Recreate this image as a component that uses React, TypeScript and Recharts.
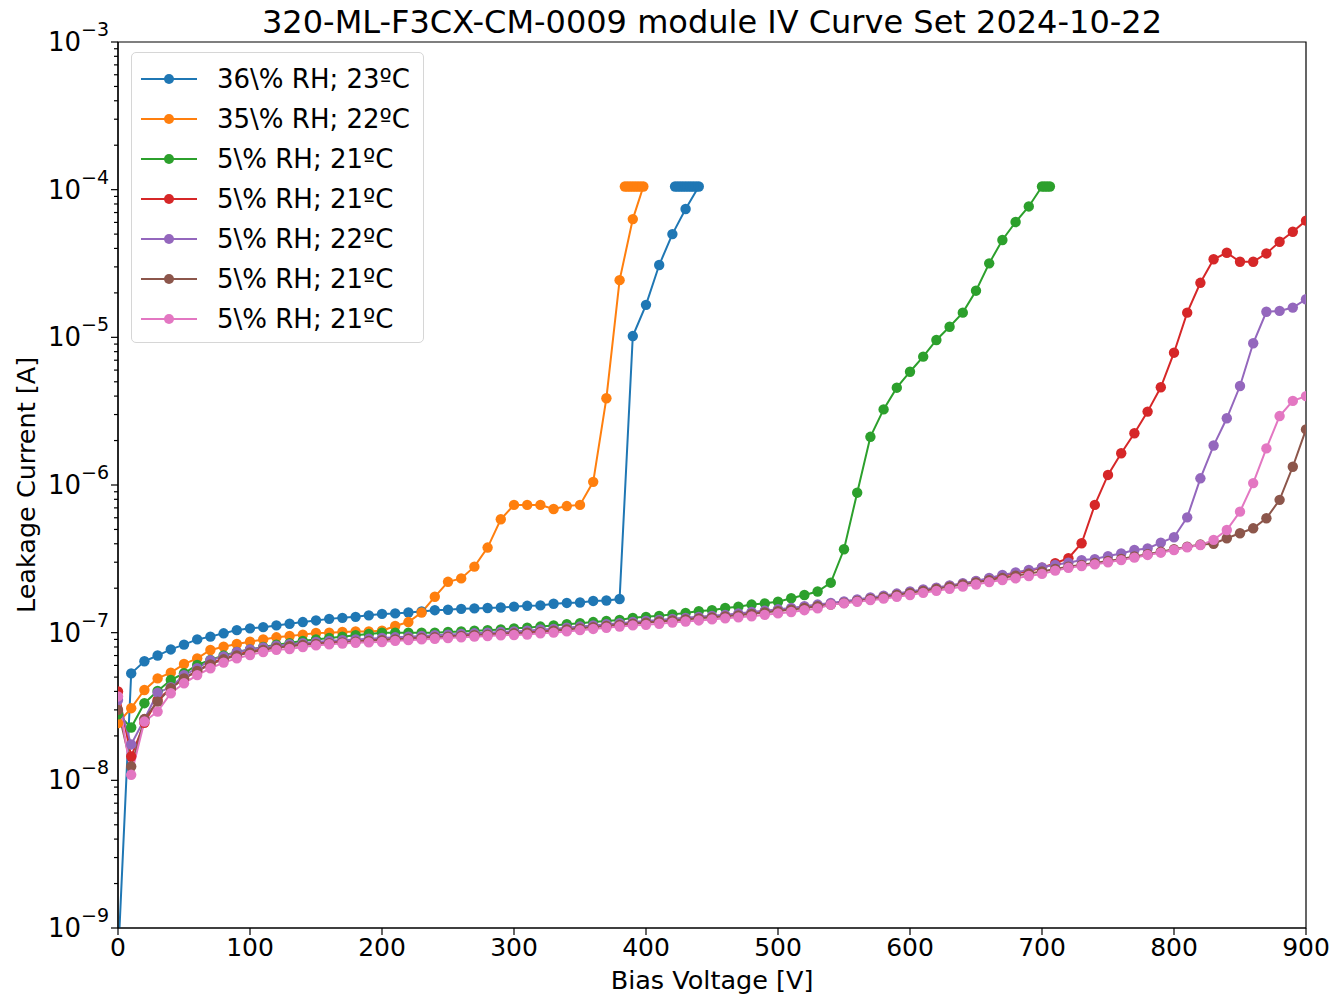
import React from "react";
import { LineChart, Line, XAxis, YAxis, ReferenceArea } from "recharts";

// ---------- data ----------
const voltages = [
  0, 10, 20, 30, 40, 50, 60, 70, 80, 90, 100, 110, 120, 130, 140, 150, 160, 170, 180, 190,
  200, 210, 220, 230, 240, 250, 260, 270, 280, 290, 300, 310, 320, 330, 340, 350, 360, 370, 380, 390,
  400, 410, 420, 430, 440, 450, 460, 470, 480, 490, 500, 510, 520, 530, 540, 550, 560, 570, 580, 590,
  600, 610, 620, 630, 640, 650, 660, 670, 680, 690, 700, 710, 720, 730, 740, 750, 760, 770, 780, 790,
  800, 810, 820, 830, 840, 850, 860, 870, 880, 890, 900,
];

// 36% RH; 23ºC  (0 .. 440 V)
const blueI = [
  6e-10, 5.3e-8, 6.4e-8, 7.0e-8, 7.7e-8, 8.3e-8, 9.0e-8, 9.4e-8, 9.9e-8, 1.04e-7,
  1.07e-7, 1.09e-7, 1.12e-7, 1.15e-7, 1.18e-7, 1.21e-7, 1.24e-7, 1.26e-7, 1.28e-7, 1.31e-7,
  1.34e-7, 1.35e-7, 1.37e-7, 1.39e-7, 1.42e-7, 1.43e-7, 1.45e-7, 1.46e-7, 1.47e-7, 1.48e-7,
  1.5e-7, 1.52e-7, 1.53e-7, 1.57e-7, 1.59e-7, 1.6e-7, 1.64e-7, 1.65e-7, 1.69e-7, 1.02e-5,
  1.66e-5, 3.09e-5, 5.0e-5, 7.4e-5, 1.05e-4,
];
const blueComplianceV = [438, 436, 434, 432, 430, 428, 426, 424, 422];
const blueComplianceI = [1.05e-4, 1.05e-4, 1.05e-4, 1.05e-4, 1.05e-4, 1.05e-4, 1.05e-4, 1.05e-4, 1.05e-4];

// 35% RH; 22ºC  (0 .. 390 V)
const orangeI = [
  2.44e-8, 3.08e-8, 4.09e-8, 4.9e-8, 5.36e-8, 6.13e-8, 6.7e-8, 7.63e-8, 8.04e-8, 8.38e-8,
  8.69e-8, 9.0e-8, 9.3e-8, 9.5e-8, 9.7e-8, 9.95e-8, 1.0e-7, 1.01e-7, 1.02e-7, 1.02e-7,
  1.03e-7, 1.11e-7, 1.18e-7, 1.37e-7, 1.75e-7, 2.21e-7, 2.33e-7, 2.8e-7, 3.77e-7, 5.86e-7,
  7.33e-7, 7.33e-7, 7.33e-7, 6.88e-7, 7.2e-7, 7.33e-7, 1.05e-6, 3.87e-6, 2.44e-5, 6.32e-5,
];
const orangeComplianceV = [398, 396, 394, 392, 390, 388, 386, 384];
const orangeComplianceI = [1.05e-4, 1.05e-4, 1.05e-4, 1.05e-4, 1.05e-4, 1.05e-4, 1.05e-4, 1.05e-4];

// 5% RH; 21ºC  (0 .. 690 V)
const greenI = [
  2.8e-8, 2.28e-8, 3.33e-8, 4.03e-8, 4.78e-8, 5.31e-8, 6.04e-8, 6.53e-8, 7.0e-8, 7.4e-8,
  7.7e-8, 8.0e-8, 8.3e-8, 8.5e-8, 8.8e-8, 9.0e-8, 9.2e-8, 9.4e-8, 9.6e-8, 9.8e-8,
  1.0e-7, 1.0e-7, 1.0e-7, 1.0e-7, 1.0e-7, 1.01e-7, 1.02e-7, 1.03e-7, 1.04e-7, 1.05e-7,
  1.07e-7, 1.08e-7, 1.1e-7, 1.12e-7, 1.14e-7, 1.16e-7, 1.18e-7, 1.2e-7, 1.22e-7, 1.26e-7,
  1.28e-7, 1.3e-7, 1.33e-7, 1.36e-7, 1.4e-7, 1.42e-7, 1.47e-7, 1.5e-7, 1.55e-7, 1.58e-7,
  1.62e-7, 1.71e-7, 1.8e-7, 1.9e-7, 2.18e-7, 3.67e-7, 8.87e-7, 2.12e-6, 3.25e-6, 4.56e-6,
  5.85e-6, 7.4e-6, 9.6e-6, 1.18e-5, 1.47e-5, 2.07e-5, 3.17e-5, 4.56e-5, 6.04e-5, 7.7e-5,
];
const greenComplianceV = [700, 702, 704, 706];
const greenComplianceI = [1.05e-4, 1.05e-4, 1.05e-4, 1.05e-4];

// 5% RH; 21ºC  (0 .. 900 V)
const redI = [
  4.0e-8, 1.45e-8, 2.45e-8, 3.5e-8, 4.2e-8, 4.9e-8, 5.5e-8, 6.2e-8, 6.7e-8, 7.1e-8,
  7.45e-8, 7.75e-8, 8.0e-8, 8.2e-8, 8.35e-8, 8.5e-8, 8.6e-8, 8.7e-8, 8.8e-8, 8.9e-8,
  9.0e-8, 9.1e-8, 9.2e-8, 9.3e-8, 9.4e-8, 9.5e-8, 9.6e-8, 9.7e-8, 9.8e-8, 9.9e-8,
  1.0e-7, 1.01e-7, 1.03e-7, 1.04e-7, 1.06e-7, 1.08e-7, 1.1e-7, 1.12e-7, 1.14e-7, 1.16e-7,
  1.18e-7, 1.2e-7, 1.22e-7, 1.24e-7, 1.26e-7, 1.28e-7, 1.3e-7, 1.33e-7, 1.36e-7, 1.39e-7,
  1.42e-7, 1.45e-7, 1.49e-7, 1.53e-7, 1.57e-7, 1.61e-7, 1.66e-7, 1.71e-7, 1.76e-7, 1.82e-7,
  1.88e-7, 1.94e-7, 2.0e-7, 2.07e-7, 2.14e-7, 2.22e-7, 2.32e-7, 2.42e-7, 2.52e-7, 2.62e-7,
  2.75e-7, 2.95e-7, 3.19e-7, 4.03e-7, 7.33e-7, 1.17e-6, 1.64e-6, 2.24e-6, 3.14e-6, 4.59e-6,
  7.87e-6, 1.47e-5, 2.34e-5, 3.38e-5, 3.74e-5, 3.25e-5, 3.25e-5, 3.7e-5, 4.44e-5, 5.19e-5,
  6.17e-5,
];

// 5% RH; 22ºC  (0 .. 900 V)
const purpleI = [
  3.5e-8, 1.75e-8, 2.59e-8, 3.92e-8, 4.27e-8, 5.16e-8, 5.74e-8, 6.5e-8, 6.9e-8, 7.4e-8,
  7.7e-8, 7.95e-8, 8.15e-8, 8.35e-8, 8.5e-8, 8.65e-8, 8.8e-8, 8.9e-8, 9.0e-8, 9.1e-8,
  9.2e-8, 9.3e-8, 9.4e-8, 9.5e-8, 9.6e-8, 9.7e-8, 9.8e-8, 9.9e-8, 1.0e-7, 1.01e-7,
  1.02e-7, 1.03e-7, 1.05e-7, 1.06e-7, 1.08e-7, 1.1e-7, 1.12e-7, 1.14e-7, 1.16e-7, 1.18e-7,
  1.2e-7, 1.22e-7, 1.24e-7, 1.26e-7, 1.28e-7, 1.3e-7, 1.32e-7, 1.35e-7, 1.38e-7, 1.41e-7,
  1.44e-7, 1.47e-7, 1.51e-7, 1.55e-7, 1.59e-7, 1.63e-7, 1.68e-7, 1.73e-7, 1.78e-7, 1.84e-7,
  1.9e-7, 1.96e-7, 2.02e-7, 2.09e-7, 2.16e-7, 2.24e-7, 2.35e-7, 2.46e-7, 2.56e-7, 2.66e-7,
  2.77e-7, 2.88e-7, 2.98e-7, 3.1e-7, 3.15e-7, 3.3e-7, 3.44e-7, 3.63e-7, 3.72e-7, 4.07e-7,
  4.43e-7, 6.04e-7, 1.11e-6, 1.85e-6, 2.83e-6, 4.68e-6, 9.12e-6, 1.49e-5, 1.51e-5, 1.59e-5,
  1.81e-5,
];

// 5% RH; 21ºC  (0 .. 900 V)
const brownI = [
  3.0e-8, 1.24e-8, 2.6e-8, 3.41e-8, 4.2e-8, 4.9e-8, 5.5e-8, 6.1e-8, 6.6e-8, 7.0e-8,
  7.35e-8, 7.65e-8, 7.9e-8, 8.1e-8, 8.25e-8, 8.4e-8, 8.5e-8, 8.6e-8, 8.7e-8, 8.8e-8,
  8.9e-8, 9.0e-8, 9.1e-8, 9.2e-8, 9.3e-8, 9.4e-8, 9.5e-8, 9.6e-8, 9.7e-8, 9.8e-8,
  9.9e-8, 1.0e-7, 1.01e-7, 1.03e-7, 1.05e-7, 1.07e-7, 1.09e-7, 1.11e-7, 1.13e-7, 1.15e-7,
  1.17e-7, 1.19e-7, 1.21e-7, 1.23e-7, 1.25e-7, 1.27e-7, 1.29e-7, 1.31e-7, 1.34e-7, 1.37e-7,
  1.4e-7, 1.43e-7, 1.47e-7, 1.51e-7, 1.55e-7, 1.59e-7, 1.64e-7, 1.69e-7, 1.74e-7, 1.8e-7,
  1.86e-7, 1.92e-7, 1.98e-7, 2.05e-7, 2.12e-7, 2.19e-7, 2.27e-7, 2.35e-7, 2.43e-7, 2.52e-7,
  2.6e-7, 2.7e-7, 2.8e-7, 2.88e-7, 2.96e-7, 3.06e-7, 3.16e-7, 3.28e-7, 3.4e-7, 3.53e-7,
  3.67e-7, 3.82e-7, 3.95e-7, 4.0e-7, 4.36e-7, 4.71e-7, 5.09e-7, 5.95e-7, 7.93e-7, 1.33e-6,
  2.38e-6,
];

// 5% RH; 21ºC  (0 .. 900 V)
const pinkI = [
  3.7e-8, 1.09e-8, 2.5e-8, 2.92e-8, 3.89e-8, 4.54e-8, 5.16e-8, 5.74e-8, 6.27e-8, 6.7e-8,
  7.06e-8, 7.4e-8, 7.65e-8, 7.75e-8, 8.0e-8, 8.2e-8, 8.35e-8, 8.45e-8, 8.55e-8, 8.6e-8,
  8.65e-8, 8.8e-8, 8.9e-8, 9.0e-8, 9.1e-8, 9.2e-8, 9.3e-8, 9.4e-8, 9.5e-8, 9.6e-8,
  9.65e-8, 9.7e-8, 9.9e-8, 1.0e-7, 1.02e-7, 1.04e-7, 1.06e-7, 1.08e-7, 1.1e-7, 1.12e-7,
  1.13e-7, 1.15e-7, 1.17e-7, 1.19e-7, 1.21e-7, 1.23e-7, 1.25e-7, 1.27e-7, 1.29e-7, 1.32e-7,
  1.35e-7, 1.38e-7, 1.42e-7, 1.46e-7, 1.55e-7, 1.58e-7, 1.62e-7, 1.66e-7, 1.7e-7, 1.75e-7,
  1.8e-7, 1.86e-7, 1.92e-7, 1.98e-7, 2.05e-7, 2.12e-7, 2.2e-7, 2.27e-7, 2.33e-7, 2.42e-7,
  2.5e-7, 2.63e-7, 2.75e-7, 2.83e-7, 2.9e-7, 3.0e-7, 3.1e-7, 3.22e-7, 3.36e-7, 3.48e-7,
  3.63e-7, 3.79e-7, 3.92e-7, 4.25e-7, 4.96e-7, 6.6e-7, 1.03e-6, 1.77e-6, 2.93e-6, 3.71e-6,
  4.0e-6,
];

const seriesNames = [
  "36\\% RH; 23ºC",
  "35\\% RH; 22ºC",
  "5\\% RH; 21ºC",
  "5\\% RH; 21ºC",
  "5\\% RH; 22ºC",
  "5\\% RH; 21ºC",
  "5\\% RH; 21ºC",
];
const seriesColors = ["#1f77b4", "#ff7f0e", "#2ca02c", "#d62728", "#9467bd", "#8c564b", "#e377c2"];

const xTicks = [0, 100, 200, 300, 400, 500, 600, 700, 800, 900];
const yMajorTicks = [1e-9, 1e-8, 1e-7, 1e-6, 1e-5, 1e-4, 1e-3];
const yMinorMultipliers = [2, 3, 4, 5, 6, 7, 8, 9];

const titleText = "320-ML-F3CX-CM-0009 module IV Curve Set 2024-10-22";
const xLabel = "Bias Voltage [V]";
const yLabel = "Leakage Current [A]";

// ---------- build ----------
type Pt = { v: number; i: number };
function build(values: number[], extraV: number[] = [], extraI: number[] = []): Pt[] {
  const pts: Pt[] = values.map((val, k) => ({ v: voltages[k], i: val }));
  extraV.forEach((ev, k) => pts.push({ v: ev, i: extraI[k] }));
  return pts;
}

const seriesData: Pt[][] = [
  build(blueI, blueComplianceV, blueComplianceI),
  build(orangeI, orangeComplianceV, orangeComplianceI),
  build(greenI, greenComplianceV, greenComplianceI),
  build(redI),
  build(purpleI),
  build(brownI),
  build(pinkI),
];

const yMinorTicks: number[] = [];
for (let e = -9; e < -3; e++) {
  yMinorMultipliers.forEach((m) => yMinorTicks.push(Number((m * Math.pow(10, e)).toPrecision(3))));
}
const yAllTicks = [...yMajorTicks, ...yMinorTicks].sort((a, b) => a - b);

const FONT = "DejaVu Sans, sans-serif";

const YTick = (props: any) => {
  const { x, y, payload } = props;
  const val: number = payload.value;
  const exp = Math.round(Math.log10(val));
  const isMajor = Math.abs(val - Math.pow(10, exp)) / Math.pow(10, exp) < 1e-6;
  return (
    <g transform={`translate(${x},${y})`}>
      <line x1={0} x2={isMajor ? -7 : -4} y1={0} y2={0} stroke="#000" strokeWidth={1.2} />
      {isMajor && (
        <text x={-9} y={9} textAnchor="end" fontSize={26} fontFamily={FONT} fill="#000">
          <tspan>10</tspan>
          <tspan dy={-15} fontSize={19}>{"\u2212" + Math.abs(exp)}</tspan>
        </text>
      )}
    </g>
  );
};

const XTick = (props: any) => {
  const { x, y, payload } = props;
  return (
    <g transform={`translate(${x},${y})`}>
      <line x1={0} x2={0} y1={0} y2={7} stroke="#000" strokeWidth={1.2} />
      <text x={0} y={28} textAnchor="middle" fontSize={25} fontFamily={FONT} fill="#000">
        {payload.value}
      </text>
    </g>
  );
};

const LegendBox = () => (
  <div
    style={{
      position: "absolute",
      left: 131,
      top: 52,
      width: 293,
      height: 291,
      border: "1px solid #d6d6d6",
      borderRadius: 5,
      background: "rgba(255,255,255,0.85)",
      boxSizing: "border-box",
      fontFamily: FONT,
    }}
  >
    {seriesNames.map((name, k) => (
      <div key={k} style={{ position: "absolute", left: 0, top: 6 + k * 40, height: 40, width: "100%" }}>
        <svg width={60} height={40} style={{ position: "absolute", left: 8, top: 0 }}>
          <line x1={1} x2={57} y1={20} y2={20} stroke={seriesColors[k]} strokeWidth={2} />
          <circle cx={29} cy={20} r={5} fill={seriesColors[k]} />
        </svg>
        <span
          style={{
            position: "absolute",
            left: 85,
            top: 0,
            lineHeight: "40px",
            fontSize: 26,
            color: "#000",
            whiteSpace: "nowrap",
          }}
        >
          {name}
        </span>
      </div>
    ))}
  </div>
);

export default function App() {
  return (
    <div style={{ position: "absolute", left: 0, top: 0, width: 1335, height: 996, background: "#fff" }}>
      <LineChart width={1335} height={996} margin={{ top: 42, right: 29, bottom: 28, left: 38 }}>
        <XAxis
          xAxisId={0}
          dataKey="v"
          type="number"
          domain={[0, 900]}
          ticks={xTicks}
          interval={0}
          height={40}
          tickSize={0}
          tickMargin={0}
          tickLine={false}
          tick={<XTick />}
          axisLine={{ stroke: "#000", strokeWidth: 1.2 }}
          allowDataOverflow
        />
        <YAxis
          yAxisId={0}
          type="number"
          scale="log"
          domain={[1e-9, 1e-3]}
          ticks={yAllTicks}
          interval={0}
          width={80}
          tickSize={0}
          tickMargin={0}
          tickLine={false}
          tick={<YTick />}
          axisLine={{ stroke: "#000", strokeWidth: 1.2 }}
          allowDataOverflow
        />
        <ReferenceArea
          xAxisId={0}
          yAxisId={0}
          x1={0}
          x2={900}
          y1={1e-9}
          y2={1e-3}
          fill="none"
          fillOpacity={0}
          stroke="#000"
          strokeWidth={1.2}
        />
        {seriesData.map((d, k) => (
          <Line
            key={k}
            xAxisId={0}
            yAxisId={0}
            data={d}
            dataKey="i"
            type="linear"
            name={seriesNames[k]}
            stroke={seriesColors[k]}
            strokeWidth={2}
            dot={{ r: 5.2, fill: seriesColors[k], stroke: seriesColors[k], strokeWidth: 0 }}
            activeDot={false}
            isAnimationActive={false}
          />
        ))}
        <text x={712} y={33} textAnchor="middle" fontSize={32} fontFamily={FONT} fill="#000">
          {titleText}
        </text>
        <text x={712} y={989} textAnchor="middle" fontSize={25.5} fontFamily={FONT} fill="#000">
          {xLabel}
        </text>
        <text
          x={35}
          y={485}
          textAnchor="middle"
          fontSize={25.5}
          fontFamily={FONT}
          fill="#000"
          transform="rotate(-90 35 485)"
        >
          {yLabel}
        </text>
      </LineChart>
      <LegendBox />
    </div>
  );
}
